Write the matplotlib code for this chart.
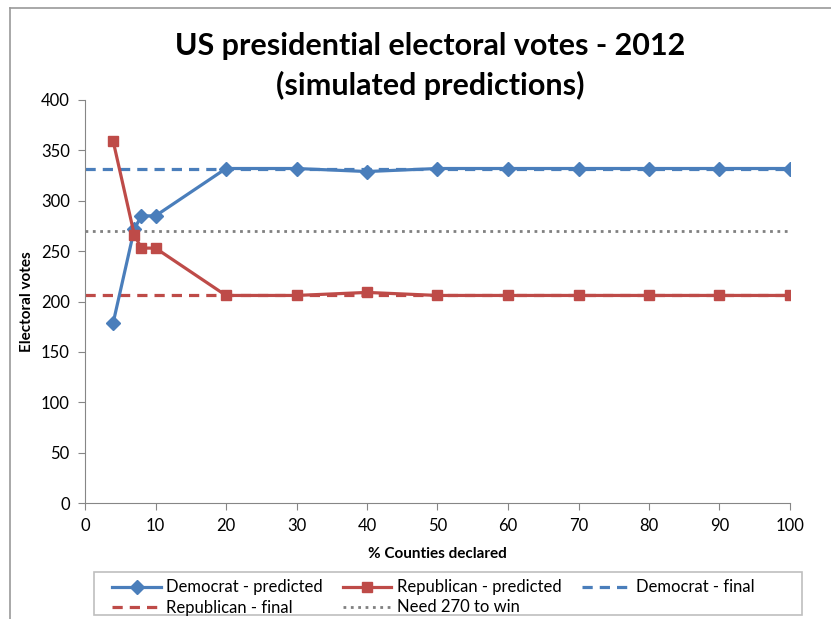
import matplotlib.pyplot as plt
from matplotlib.patches import Rectangle
from matplotlib.lines import Line2D

plt.rcParams['font.family'] = ['Lato', 'DejaVu Sans']

# data
pct_declared = [4, 7, 8, 10, 20, 30, 40, 50, 60, 70, 80, 90, 100]
dem_pred = [179, 272, 285, 285, 332, 332, 329, 332, 332, 332, 332, 332, 332]
rep_pred = [359, 266, 253, 253, 206, 206, 209, 206, 206, 206, 206, 206, 206]
dem_final = 332
rep_final = 206
need_to_win = 270

azul = '#4A7EBB'
rojo = '#BE4B48'
gris = '#808080'

fig = plt.figure(figsize=(8.31, 6.19), dpi=100)
ax = fig.add_axes([85/831, (619-503)/619, (790-85)/831, (503-100)/619])

def px(x, y):
    return x/831, 1 - y/619

# borde exterior del grafico (solo izquierda y arriba visibles)
x0, y0 = px(10, 8)
fig.add_artist(Line2D([x0, x0], [0, y0], color='#9a9a9a', lw=1.2))
fig.add_artist(Line2D([x0, 1], [y0, y0], color='#9a9a9a', lw=1.2))

ax.plot([0, 100], [dem_final]*2, '--', color=azul, lw=2.3, dashes=(3.2, 2.2),
        label='Democrat - final', zorder=2)
ax.plot([0, 100], [rep_final]*2, '--', color=rojo, lw=2.3, dashes=(3.2, 2.2),
        label='Republican - final', zorder=2)
ax.plot([0, 100], [need_to_win]*2, ':', color=gris, lw=2,
        label='Need 270 to win', zorder=2)
ax.plot(pct_declared, dem_pred, '-D', color=azul, lw=2.3, markersize=7,
        label='Democrat - predicted', zorder=3)
ax.plot(pct_declared, rep_pred, '-s', color=rojo, lw=2.3, markersize=7.5,
        label='Republican - predicted', zorder=4)

ax.set_xlim(0, 100)
ax.set_ylim(0, 400)
ax.set_xticks(range(0, 101, 10))
ax.set_yticks(range(0, 401, 50))
ax.tick_params(direction='out', length=5, color='#868686', labelsize=12, pad=6)
for s in ['top', 'right']:
    ax.spines[s].set_visible(False)
for s in ['left', 'bottom']:
    ax.spines[s].set_color('#868686')

ax.set_xlabel('% Counties declared', fontsize=11, fontweight='bold', labelpad=9)
ax.set_ylabel('Electoral votes', fontsize=11, fontweight='bold', labelpad=5)

fig.text(430/831, 1 - 46/619, 'US presidential electoral votes - 2012',
         ha='center', va='center', fontsize=22, fontweight='bold')
fig.text(430/831, 1 - 85/619, '(simulated predictions)',
         ha='center', va='center', fontsize=22, fontweight='bold')

# caja de la leyenda
bx, by = px(94, 615)
fig.patches.append(Rectangle((bx, by), (802-94)/831, (615-572)/619,
                             transform=fig.transFigure, fill=False,
                             edgecolor='#bfbfbf', linewidth=1.2))

h, l = ax.get_legend_handles_labels()
orden = [3, 1, 4, 2, 0]
leg = fig.legend([h[i] for i in orden], [l[i] for i in orden], ncol=3,
                 loc='upper left', bbox_to_anchor=px(104, 571),
                 fontsize=12, frameon=False, borderpad=0,
                 handlelength=2.9, labelspacing=0.25,
                 handletextpad=0.35, columnspacing=1.2)

plt.savefig('out.png', dpi=100)
plt.close()
